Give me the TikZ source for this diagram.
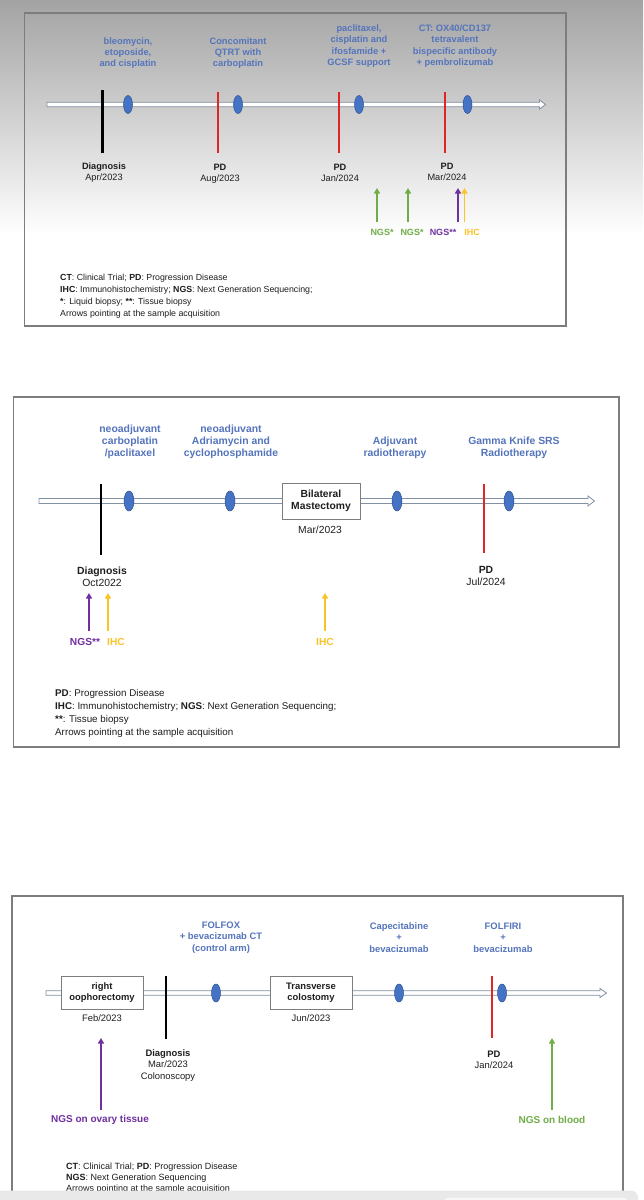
\documentclass[tikz,border=0pt]{standalone}
\usepackage{fontspec}
\setmainfont{Liberation Sans}
\usetikzlibrary{arrows.meta,shapes.geometric}
\definecolor{tblue}{RGB}{84,116,188}
\definecolor{evfill}{RGB}{68,114,196}
\definecolor{evline}{RGB}{47,82,143}
\definecolor{pdred}{RGB}{222,38,38}
\definecolor{ngsgreen}{RGB}{112,173,71}
\definecolor{ngspurple}{RGB}{112,48,160}
\definecolor{ihcyellow}{RGB}{250,195,40}
\definecolor{panelgray}{RGB}{125,125,125}
\definecolor{tlgray}{RGB}{130,145,165}
\definecolor{txt}{RGB}{30,30,30}
\definecolor{bggray}{RGB}{163,163,163}
\definecolor{bandgray}{RGB}{233,233,233}
\definecolor{bandlight}{RGB}{246,246,246}
\newcommand\myfs[2]{\fontsize{#1}{#2}\selectfont}
\begin{document}
\begin{tikzpicture}[x=1pt,y=-1pt,
  panel/.style={draw=panelgray,line width=1.3pt},
  tline/.style={draw=tlgray,fill=white,line width=0.8pt},
  ev/.style 2 args={ellipse,draw=evline,fill=evfill,line width=0.5pt,inner sep=0pt,minimum width=#1,minimum height=#2},
  diagline/.style={line width=2.6pt,draw=black},
  pdline/.style={line width=2pt,draw=pdred},
  samp/.style={line width=1.8pt,-{Triangle[length=5.5pt,width=6pt]}},
  treat/.style 2 args={text=tblue,align=center,inner sep=0pt,font=\bfseries\myfs{#1}{#2}},
  evlbl/.style 2 args={text=txt,align=center,inner sep=0pt,font=\myfs{#1}{#2}},
  sbox/.style 2 args={draw=panelgray,fill=white,line width=1pt,align=center,text=txt,inner sep=0pt,font=\bfseries\myfs{#1}{#2}},
  smp/.style={inner sep=0pt,font=\bfseries\myfs{#1}{#1}},
  legend/.style 2 args={text=txt,align=left,anchor=north west,inner sep=0pt,font=\myfs{#1}{#2}},
]
\useasboundingbox (0,0) rectangle (643,1200);
% background
\shade[top color=bggray,bottom color=white] (0,0) rectangle (643,235);
\fill[white] (0,235) rectangle (643,1200);

% ================= PANEL 1 =================
\draw[panel] (24.6,13) rectangle (566,326);
\draw[tline] (47,102.3) -- (539.5,102.3) -- (539.5,100) -- (545.5,104.5) -- (539.5,109) -- (539.5,106.7) -- (47,106.7) -- cycle;
\coordinate (p1d1t) at (102.5,90);  \coordinate (p1d1b) at (102.5,153);
\coordinate (p1r1t) at (218,92);    \coordinate (p1r1b) at (218,153);
\coordinate (p1r2t) at (338.5,92);  \coordinate (p1r2b) at (338.5,153);
\coordinate (p1r3t) at (445,92);    \coordinate (p1r3b) at (445,153);
\draw[diagline] (p1d1t) -- (p1d1b);
\draw[pdline] (p1r1t) -- (p1r1b);
\draw[pdline] (p1r2t) -- (p1r2b);
\draw[pdline] (p1r3t) -- (p1r3b);
\node[ev={9pt}{18pt}] (p1e1) at (128,104.5) {};
\node[ev={9pt}{18pt}] (p1e2) at (238,104.5) {};
\node[ev={9pt}{18pt}] (p1e3) at (359,104.5) {};
\node[ev={9pt}{18pt}] (p1e4) at (467.5,104.5) {};
\node[treat={9.3}{11}] (p1t1) at (128,53.5) {bleomycin,\\etoposide,\\and cisplatin};
\node[treat={9.3}{11}] (p1t2) at (238,53.5) {Concomitant\\QTRT with\\carboplatin};
\node[treat={9.3}{11.3}] (p1t3) at (359,46) {paclitaxel,\\cisplatin and\\ifosfamide +\\GCSF support};
\node[treat={9.3}{11.3}] (p1t4) at (455,46) {CT: OX40/CD137\\tetravalent\\bispecific antibody\\+ pembrolizumab};
\node[evlbl={9.2}{11}] (p1l1) at (104,173) {\textbf{Diagnosis}\\Apr/2023};
\node[evlbl={9.2}{11}] (p1l2) at (220,174) {\textbf{PD}\\Aug/2023};
\node[evlbl={9.2}{11}] (p1l3) at (340,173) {\textbf{PD}\\Jan/2024};
\node[evlbl={9.2}{11}] (p1l4) at (447,172) {\textbf{PD}\\Mar/2024};
\coordinate (p1a1s) at (377,222); \coordinate (p1a1e) at (377,188);
\coordinate (p1a2s) at (408,222); \coordinate (p1a2e) at (408,188);
\coordinate (p1a3s) at (458,222); \coordinate (p1a3e) at (458,188);
\coordinate (p1a4s) at (464.5,222); \coordinate (p1a4e) at (464.5,188);
\draw[samp,ngsgreen] (p1a1s) -- (p1a1e);
\draw[samp,ngsgreen] (p1a2s) -- (p1a2e);
\draw[samp,ngspurple] (p1a3s) -- (p1a3e);
\draw[samp,ihcyellow] (p1a4s) -- (p1a4e);
\node[smp=9,text=ngsgreen] (p1n1) at (382,232) {NGS*};
\node[smp=9,text=ngsgreen] (p1n2) at (412,232) {NGS*};
\node[smp=9,text=ngspurple] (p1n3) at (443,232) {NGS**};
\node[smp=9,text=ihcyellow] (p1n4) at (472,232) {IHC};
\node[legend={8.8}{12}] (p1leg) at (60,273.7) {\textbf{CT}: Clinical Trial; \textbf{PD}: Progression Disease\\\textbf{IHC}: Immunohistochemistry; \textbf{NGS}: Next Generation Sequencing;\\\textbf{*}: Liquid biopsy; \textbf{**}: Tissue biopsy\\Arrows pointing at the sample acquisition};

% ================= PANEL 2 =================
\draw[panel] (13.5,397) rectangle (619,747);
\draw[tline] (39,498.5) -- (588,498.5) -- (588,496) -- (594.5,501) -- (588,506) -- (588,503.5) -- (39,503.5) -- cycle;
\coordinate (p2d1t) at (101,484);  \coordinate (p2d1b) at (101,555);
\coordinate (p2r1t) at (484,484);  \coordinate (p2r1b) at (484,553);
\draw[diagline] (p2d1t) -- (p2d1b);
\draw[pdline] (p2r1t) -- (p2r1b);
\node[ev={10pt}{20pt}] (p2e1) at (129,501) {};
\node[ev={10pt}{20pt}] (p2e2) at (230,501) {};
\node[ev={10pt}{20pt}] (p2e3) at (397,501) {};
\node[ev={10pt}{20pt}] (p2e4) at (509,501) {};
\node[sbox={10.3}{12},minimum width=78pt,minimum height=36pt] (p2box) at (321,501) {Bilateral\\Mastectomy};
\node[evlbl={10.3}{12}] (p2bd) at (320,529.5) {Mar/2023};
\node[treat={10.4}{12}] (p2t1) at (130,442) {neoadjuvant\\carboplatin\\/paclitaxel};
\node[treat={10.4}{12}] (p2t2) at (231,442) {neoadjuvant\\Adriamycin and\\cyclophosphamide};
\node[treat={10.4}{12}] (p2t3) at (395,448) {Adjuvant\\radiotherapy};
\node[treat={10.4}{12}] (p2t4) at (514,448) {Gamma Knife SRS\\Radiotherapy};
\node[evlbl={10.4}{12}] (p2l1) at (102,577) {\textbf{Diagnosis}\\Oct2022};
\node[evlbl={10.4}{12}] (p2l2) at (486,576) {\textbf{PD}\\Jul/2024};
\coordinate (p2a1s) at (89,631);  \coordinate (p2a1e) at (89,593);
\coordinate (p2a2s) at (108,631); \coordinate (p2a2e) at (108,593);
\coordinate (p2a3s) at (325,631); \coordinate (p2a3e) at (325,593);
\draw[samp,ngspurple] (p2a1s) -- (p2a1e);
\draw[samp,ihcyellow] (p2a2s) -- (p2a2e);
\draw[samp,ihcyellow] (p2a3s) -- (p2a3e);
\node[smp=10.2,text=ngspurple] (p2n1) at (85,642) {NGS**};
\node[smp=10.2,text=ihcyellow] (p2n2) at (116,642) {IHC};
\node[smp=10.2,text=ihcyellow] (p2n3) at (325,642) {IHC};
\node[legend={9.8}{13}] (p2leg) at (55,689.3) {\textbf{PD}: Progression Disease\\\textbf{IHC}: Immunohistochemistry; \textbf{NGS}: Next Generation Sequencing;\\\textbf{**}: Tissue biopsy\\Arrows pointing at the sample acquisition};

% ================= PANEL 3 =================
\draw[panel] (12,896) rectangle (623,1215);
\draw[tline] (46,990.8) -- (600,990.8) -- (600,988.5) -- (606.5,993) -- (600,997.5) -- (600,995.2) -- (46,995.2) -- cycle;
\coordinate (p3d1t) at (166,976);  \coordinate (p3d1b) at (166,1039);
\coordinate (p3r1t) at (492,976);  \coordinate (p3r1b) at (492,1038);
\draw[diagline] (p3d1t) -- (p3d1b);
\draw[pdline] (p3r1t) -- (p3r1b);
\node[sbox={9.4}{11.5},minimum width=82pt,minimum height=33pt] (p3box1) at (102,992.5) {right\\oophorectomy};
\node[sbox={9.4}{11.5},minimum width=82pt,minimum height=33pt] (p3box2) at (311,992.5) {Transverse\\colostomy};
\node[evlbl={9.4}{11.5}] (p3bd1) at (102,1018.5) {Feb/2023};
\node[evlbl={9.4}{11.5}] (p3bd2) at (311,1018.5) {Jun/2023};
\node[ev={9pt}{18pt}] (p3e1) at (216,993) {};
\node[ev={9pt}{18pt}] (p3e2) at (399,993) {};
\node[ev={9pt}{18pt}] (p3e3) at (502,993) {};
\node[treat={9.4}{11.5}] (p3t1) at (221,937.5) {FOLFOX\\+ bevacizumab CT\\(control arm)};
\node[treat={9.4}{11.5}] (p3t2) at (399,937.5) {Capecitabine\\+\\bevacizumab};
\node[treat={9.4}{11.5}] (p3t3) at (503,937.5) {FOLFIRI\\+\\bevacizumab};
\node[evlbl={9.4}{11.5}] (p3l1) at (168,1065.5) {\textbf{Diagnosis}\\Mar/2023\\Colonoscopy};
\node[evlbl={9.4}{11.5}] (p3l2) at (494,1060) {\textbf{PD}\\Jan/2024};
\coordinate (p3a1s) at (101,1110); \coordinate (p3a1e) at (101,1038);
\coordinate (p3a2s) at (552,1110); \coordinate (p3a2e) at (552,1038);
\draw[samp,ngspurple] (p3a1s) -- (p3a1e);
\draw[samp,ngsgreen] (p3a2s) -- (p3a2e);
\node[smp=10,text=ngspurple] (p3n1) at (100,1119.5) {NGS on ovary tissue};
\node[smp=10,text=ngsgreen] (p3n2) at (552,1119.5) {NGS on blood};
\node[legend={9}{11}] (p3leg) at (66,1162.8) {\textbf{CT}: Clinical Trial; \textbf{PD}: Progression Disease\\\textbf{NGS}: Next Generation Sequencing\\Arrows pointing at the sample acquisition};

% bottom band
\fill[bandgray,rounded corners=7pt] (-10,1190.5) rectangle (638,1220);
\fill[bandlight,rounded corners=5pt] (443,1197.5) rectangle (628,1220);
\end{tikzpicture}
\end{document}
